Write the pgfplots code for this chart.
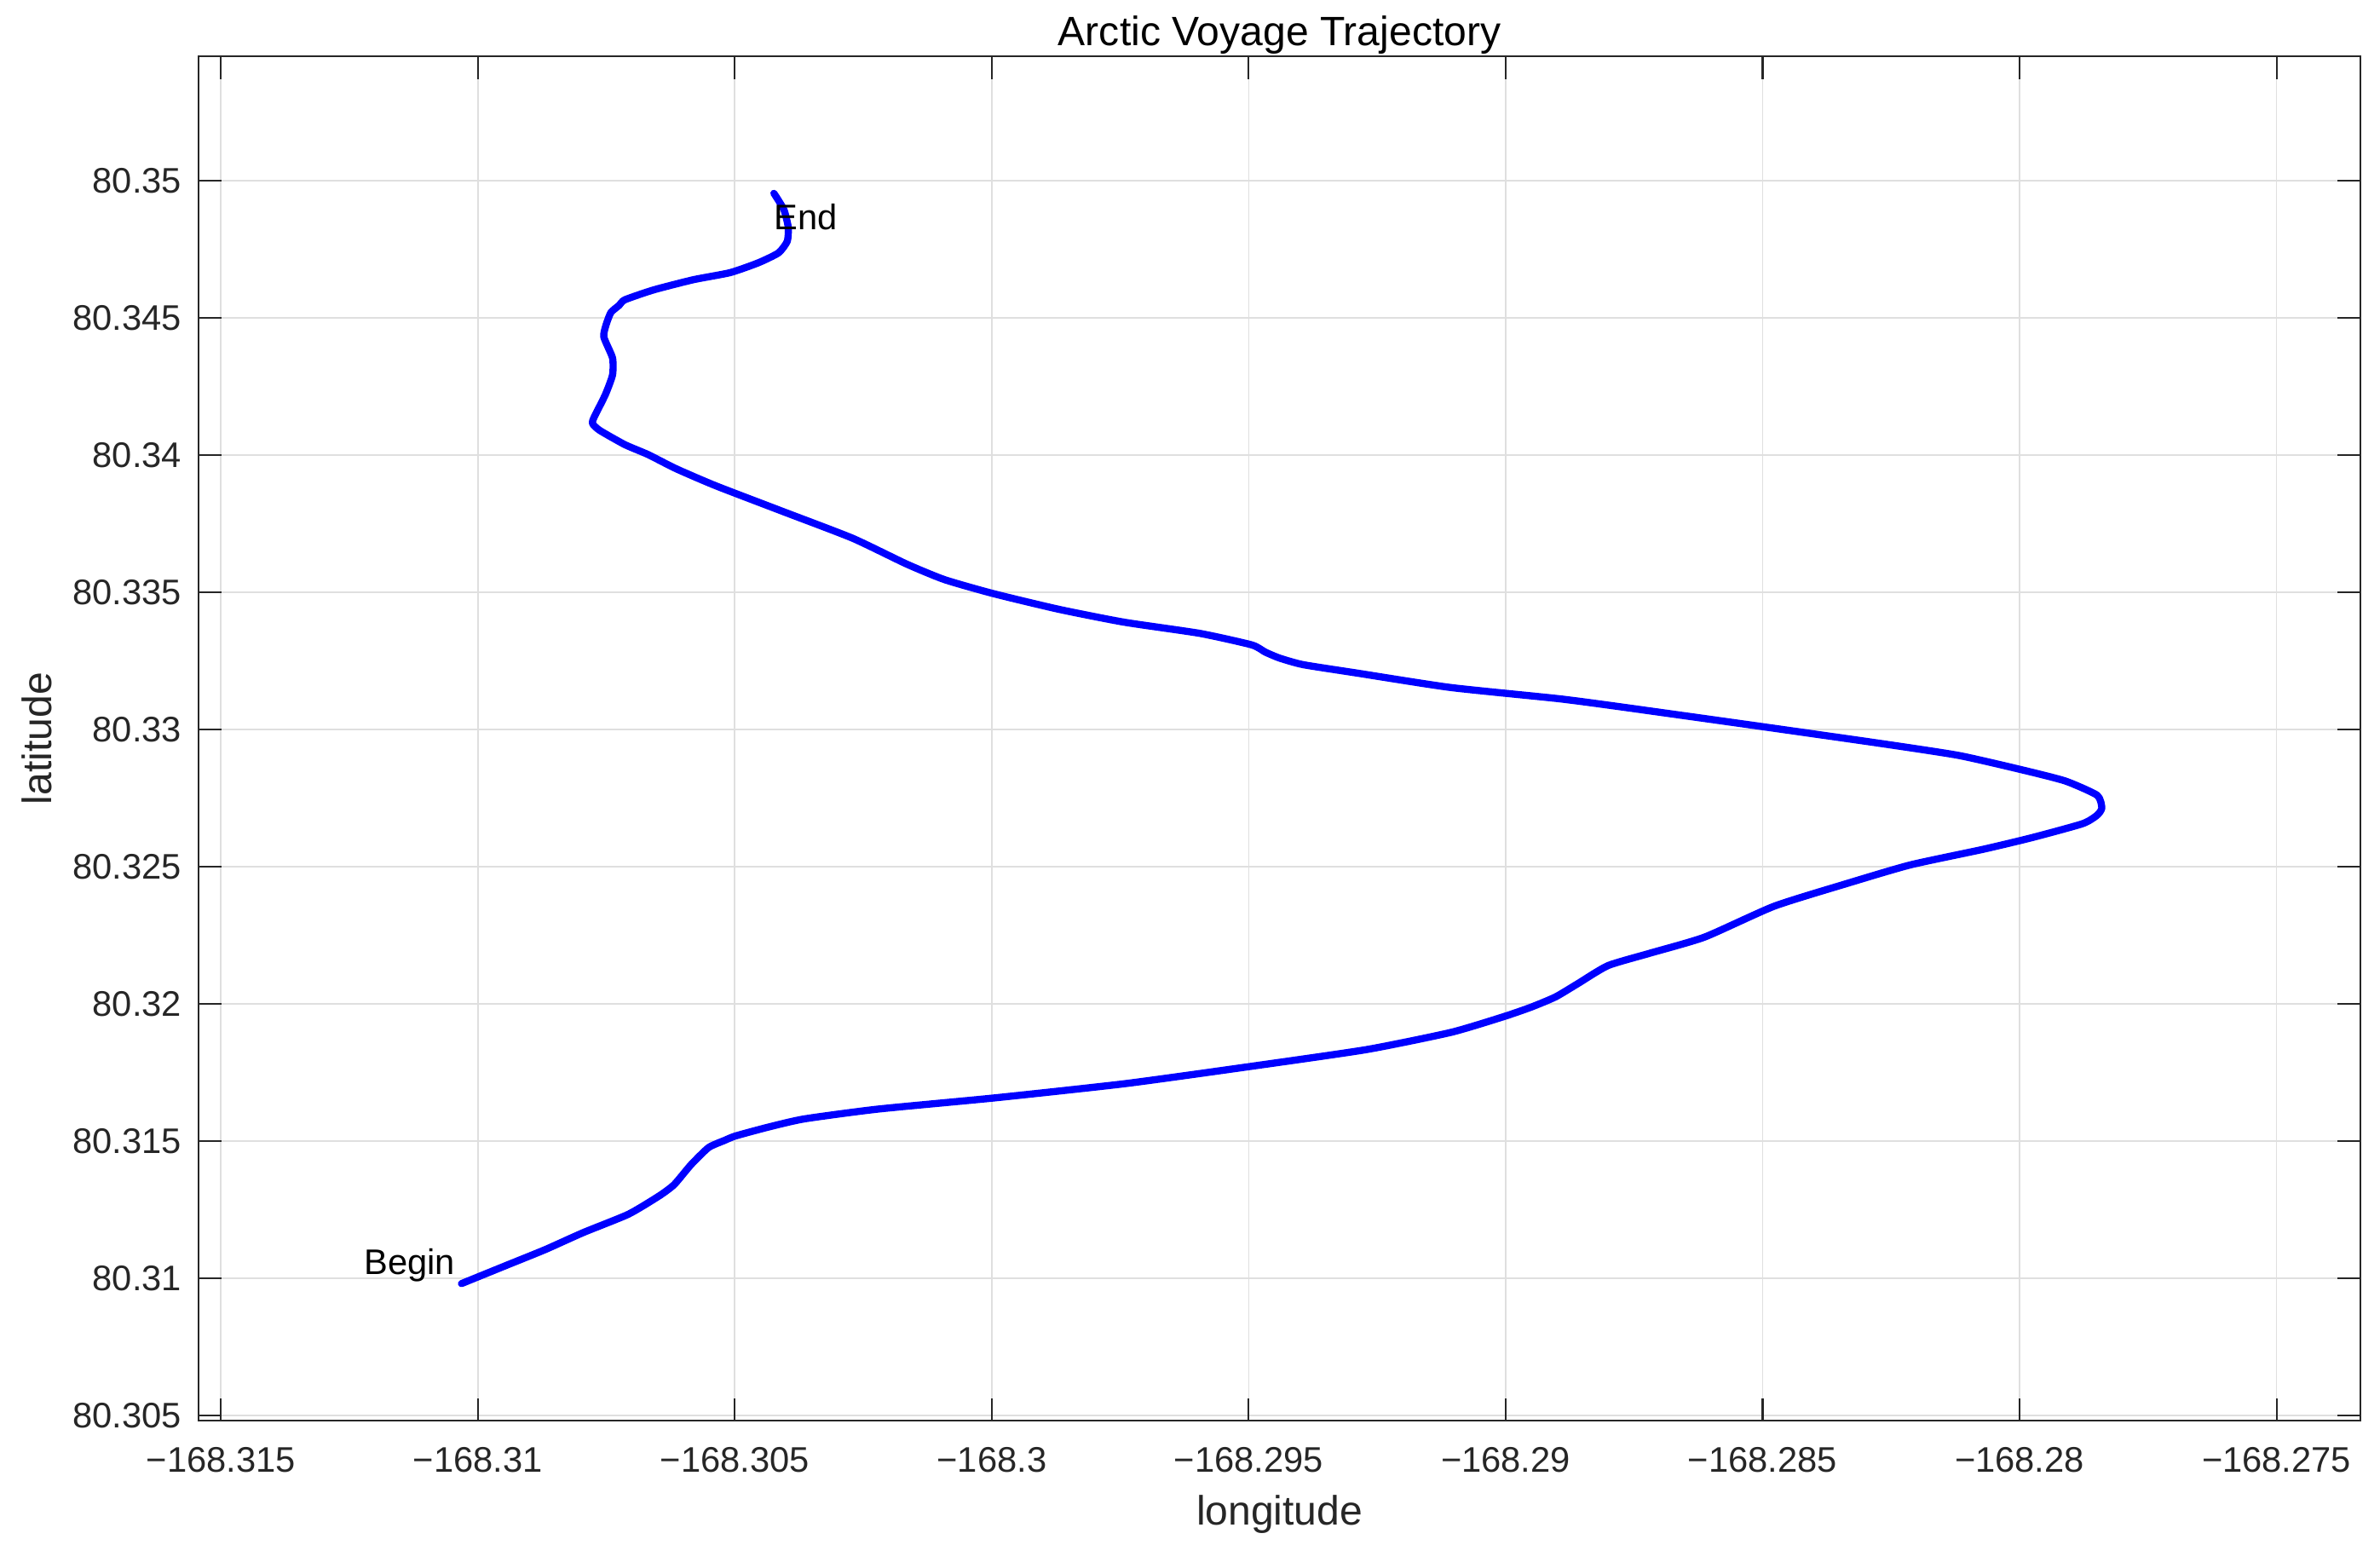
\documentclass[border=0pt]{standalone}
\usepackage{fontspec}
\setmainfont{Liberation Sans}
\usepackage{pgfplots}
\pgfplotsset{compat=1.18}
\definecolor{trackblue}{RGB}{0,0,255}
\definecolor{axisgray}{RGB}{38,38,38}
\definecolor{gridgray}{RGB}{223,223,223}
\newcommand\tickfont{\fontsize{11.7}{14}\selectfont}
\newcommand\labfont{\fontsize{13.5}{16}\selectfont}
% turn a coordinate (plain string or pgf fpu "flagYmantissae exp]") into a number l3fp reads
\makeatletter
\def\FPin#1{\edef\FPtmp{#1}\expandafter\FPa\FPtmp YY\@nil}
\def\FPa#1Y#2Y#3\@nil{%
  \if\relax\detokenize{#2}\relax
    \edef\FPres{#1}%
  \else
    \FPb{#1}#2\@nil
  \fi}
\def\FPb#1#2e#3]#4\@nil{%
  \edef\FPres{\ifcase#1 0\or #2e#3\or -#2e#3\else 0\fi}}
\makeatother
\begin{document}
\begin{tikzpicture}
\begin{axis}[
    scale only axis, width=712pt, height=449.5pt,
    % shift lon/lat exactly before pgfplots works on them
    x coord trafo/.code={\FPin{#1}\edef\pgfmathresult{\fpeval{\FPres+168.3}}},
    y coord trafo/.code={\FPin{#1}\edef\pgfmathresult{\fpeval{\FPres-80.33}}},
    scaled ticks=false,
    xmin=-168.31543, xmax=-168.27337,
    ymin=80.30480, ymax=80.35454,
    xtick={-168.315,-168.31,-168.305,-168.3,-168.295,-168.29,-168.285,-168.28,-168.275},
    xticklabels={−168.315,−168.31,−168.305,−168.3,−168.295,−168.29,−168.285,−168.28,−168.275},
    ytick={80.305,80.31,80.315,80.32,80.325,80.33,80.335,80.34,80.345,80.35},
    yticklabels={80.305,80.31,80.315,80.32,80.325,80.33,80.335,80.34,80.345,80.35},
    tick align=inside, major tick length=7.5pt,
    every tick/.style={axisgray, line width=0.6pt},
    axis line style={axisgray, line width=0.6pt},
    grid=major, major grid style={gridgray, line width=0.5pt},
    xticklabel style={font=\tickfont, text=axisgray, anchor=base, inner sep=0pt, yshift=-17pt},
    yticklabel style={font=\tickfont, text=axisgray, anchor=east, inner sep=0pt, xshift=-5.5pt},
    title={Arctic Voyage Trajectory},
    every axis title shift=0pt,
    title style={font=\labfont, at={(axis description cs:0.5,1.00779)}, anchor=base, inner sep=0pt},
    xlabel={longitude},
    xlabel style={font=\labfont, text=axisgray, at={(axis description cs:0.5,-0.07653)}, anchor=base, inner sep=0pt},
    ylabel={latitude},
    ylabel style={font=\labfont, text=axisgray, at={(axis description cs:-0.06826,0.5)}, anchor=base, inner sep=0pt},
    clip=false,
]
\addplot[trackblue, line width=2.35pt, line join=round, line cap=round, smooth, tension=0.35] table {
lon lat
-168.31032 80.30980
-168.30944 80.31047
-168.30869 80.31104
-168.30795 80.31166
-168.30707 80.31233
-168.30647 80.31300
-168.30618 80.31341
-168.30585 80.31414
-168.30551 80.31476
-168.30520 80.31502
-168.30499 80.31518
-168.30440 80.31548
-168.30366 80.31580
-168.30222 80.31616
-168.29994 80.31657
-168.29740 80.31709
-168.29499 80.31771
-168.29271 80.31833
-168.29106 80.31896
-168.29004 80.31953
-168.28950 80.31988
-168.28903 80.32025
-168.28860 80.32073
-168.28801 80.32139
-168.28720 80.32184
-168.28613 80.32243
-168.28477 80.32356
-168.28335 80.32439
-168.28213 80.32506
-168.28071 80.32563
-168.27977 80.32605
-168.27878 80.32656
-168.27850 80.32686
-168.27840 80.32713
-168.27849 80.32760
-168.27911 80.32812
-168.27996 80.32853
-168.28118 80.32905
-168.28260 80.32946
-168.28496 80.33009
-168.28779 80.33083
-168.28897 80.33112
-168.29108 80.33153
-168.29288 80.33205
-168.29394 80.33236
-168.29440 80.33260
-168.29468 80.33282
-168.29494 80.33308
-168.29595 80.33350
-168.29743 80.33391
-168.29870 80.33438
-168.29997 80.33495
-168.30092 80.33546
-168.30166 80.33603
-168.30271 80.33697
-168.30406 80.33794
-168.30537 80.33888
-168.30614 80.33950
-168.30669 80.34002
-168.30714 80.34038
-168.30763 80.34090
-168.30777 80.34115
-168.30774 80.34137
-168.30752 80.34220
-168.30738 80.34292
-168.30738 80.34354
-168.30755 80.34431
-168.30750 80.34478
-168.30741 80.34520
-168.30725 80.34546
-168.30714 80.34566
-168.30658 80.34602
-168.30581 80.34639
-168.30509 80.34665
-168.30454 80.34701
-168.30415 80.34737
-168.30398 80.34779
-168.30396 80.34830
-168.30404 80.34892
-168.30417 80.34934
-168.30424 80.34954
};
% start and end labels
\addplot[draw=none, no markers, nodes near coords={Begin},
    nodes near coords style={anchor=base east, inner sep=0pt, xshift=-1.9pt, yshift=2.9pt, font=\tickfont, text=black}]
    table {
lon lat
-168.31032 80.30980
};
\addplot[draw=none, no markers, nodes near coords={End},
    nodes near coords style={anchor=base west, inner sep=0pt, yshift=-12.1pt, font=\tickfont, text=black}]
    table {
lon lat
-168.30424 80.34954
};
\end{axis}
\path ([shift={(-65.5pt,-40.9pt)}]current axis.south west) rectangle ([shift={(6.5pt,18.5pt)}]current axis.north east);
\end{tikzpicture}
\end{document}
